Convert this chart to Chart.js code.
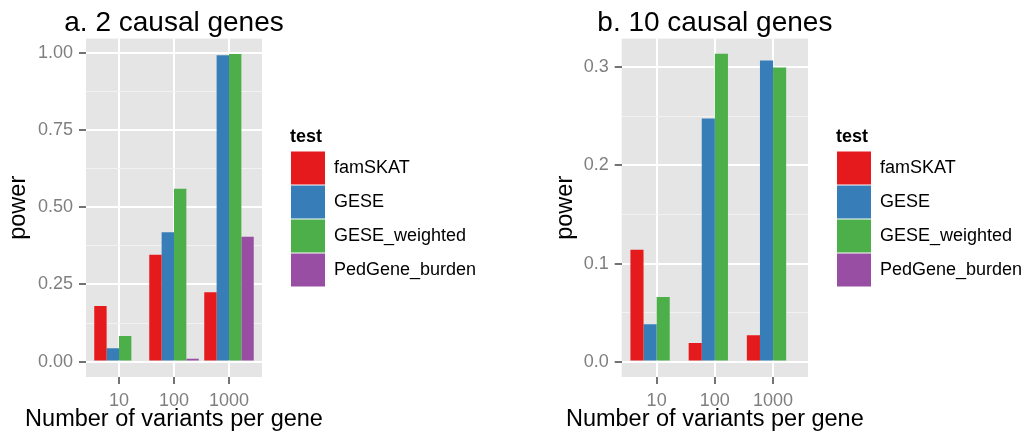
<!DOCTYPE html>
<html>
<head>
<meta charset="utf-8">
<script src="https://cdn.jsdelivr.net/npm/chart.js@4.4.0/dist/chart.umd.min.js"></script>
<style>
body { margin: 0; background: #fff; }
#wrap { position: relative; width: 1032px; height: 439px; }
canvas { position: absolute; top: 0; }
#chartA { left: 0; }
#chartB { left: 516px; }
</style>
</head>
<body>
<div id="wrap">
<canvas id="chartA" width="516" height="439"></canvas>
<canvas id="chartB" width="516" height="439"></canvas>
</div>
<script>
// カテゴリ（x軸）と凡例
const variants = ['10', '100', '1000'];
const tests = ['famSKAT', 'GESE', 'GESE_weighted', 'PedGene_burden'];
const testColors = ['#E41A1C', '#377EB8', '#4DAF4A', '#984EA3'];

// a. 2 causal genes
const famSKAT_a = [0.180, 0.346, 0.225];
const GESE_a = [0.043, 0.419, 0.993];
const GESEw_a = [0.083, 0.560, 0.997];
const PedGene_a = [null, 0.009, 0.405];

// b. 10 causal genes
const famSKAT_b = [0.114, 0.019, 0.027];
const GESE_b = [0.038, 0.248, 0.307];
const GESEw_b = [0.066, 0.314, 0.300];
const PedGene_b = [null, 0, 0];

// y軸目盛り
const yMajorA = [0, 0.25, 0.5, 0.75, 1];
const yMinorA = [0.125, 0.375, 0.625, 0.875];
const yMajorB = [0, 0.1, 0.2, 0.3];
const yMinorB = [0.05, 0.15, 0.25];

Chart.defaults.font.family = "'Liberation Sans', Arial, sans-serif";
Chart.defaults.animation = false;

const isMajor = (majors, v) => majors.some(m => Math.abs(m - v) < 1e-9);

// パネル背景（ggplot風グレー）
const panelBg = {
    id: 'panelBg',
    beforeDraw(chart) {
        const a = chart.chartArea;
        const ctx = chart.ctx;
        ctx.save();
        ctx.fillStyle = '#E5E5E5';
        ctx.fillRect(a.left, a.top, a.right - a.left, a.bottom - a.top);
        ctx.restore();
    }
};

// タイトルとx軸タイトル（パネル中央揃え、幅を縮めない）
const ggTitles = {
    id: 'ggTitles',
    afterDraw(chart, args, opts) {
        const a = chart.chartArea;
        const cx = (a.left + a.right) / 2;
        const ctx = chart.ctx;
        ctx.save();
        ctx.fillStyle = '#000';
        ctx.textAlign = 'center';
        ctx.textBaseline = 'alphabetic';
        ctx.font = "28px 'Liberation Sans', Arial, sans-serif";
        ctx.fillText(opts.title, cx, 31);
        ctx.font = "23.5px 'Liberation Sans', Arial, sans-serif";
        ctx.fillText(opts.xTitle, cx, 426);
        ctx.restore();
    }
};

function makePanel(id, titleText, series, yMajor, yMinor, yMin, yMax, digits, yWidth, yTitlePad, padRight) {
    const ctx = document.getElementById(id).getContext('2d');
    return new Chart(ctx, {
        type: 'bar',
        data: {
            datasets: series.map((vals, k) => ({
                label: tests[k],
                data: vals.map((v, i) => ({ x: i, y: v })),
                backgroundColor: testColors[k],
                borderWidth: 0,
                categoryPercentage: 0.9,
                barPercentage: 1.0
            }))
        },
        plugins: [panelBg, ggTitles],
        options: {
            responsive: false,
            devicePixelRatio: 1,
            layout: { padding: { top: 38.6, left: 0, right: padRight, bottom: 0 } },
            plugins: {
                ggTitles: { title: titleText, xTitle: 'Number of variants per gene' },
                title: { display: false },
                tooltip: { enabled: false },
                legend: {
                    position: 'right',
                    align: 'center',
                    fullSize: false,
                    maxWidth: 190,
                    title: {
                        display: true,
                        text: 'test',
                        position: 'start',
                        color: '#000',
                        font: { size: 18, weight: 'bold' },
                        padding: { top: 0, bottom: 1 }
                    },
                    labels: {
                        boxWidth: 34,
                        boxHeight: 33,
                        padding: 1,
                        color: '#000',
                        font: { size: 18 }
                    }
                }
            },
            scales: {
                x: {
                    type: 'linear',
                    min: -0.6,
                    max: 2.6,
                    offset: false,
                    afterBuildTicks: s => { s.ticks = variants.map((_, i) => ({ value: i })); },
                    afterFit: s => { s.height = 62; },
                    grid: {
                        offset: false,
                        color: '#FFFFFF',
                        lineWidth: 2,
                        drawTicks: true,
                        tickColor: '#444444',
                        tickWidth: 1.5,
                        tickLength: 7
                    },
                    border: { display: false },
                    ticks: {
                        color: '#7F7F7F',
                        font: { size: 18 },
                        padding: 6,
                        autoSkip: false,
                        maxRotation: 0,
                        callback: v => variants[v]
                    }
                },
                y: {
                    min: yMin,
                    max: yMax,
                    afterBuildTicks: s => {
                        s.ticks = yMajor.concat(yMinor).sort((p, q) => p - q).map(v => ({ value: v }));
                    },
                    afterFit: s => { s.width = yWidth; },
                    grid: {
                        color: c => (c.tick && !isMajor(yMajor, c.tick.value)) ? '#F2F2F2' : '#FFFFFF',
                        lineWidth: c => (c.tick && !isMajor(yMajor, c.tick.value)) ? 1 : 2,
                        tickColor: c => (c.tick && !isMajor(yMajor, c.tick.value)) ? 'rgba(0,0,0,0)' : '#444444',
                        tickWidth: 1.5,
                        tickLength: 7
                    },
                    border: { display: false },
                    ticks: {
                        color: '#7F7F7F',
                        font: { size: 18 },
                        padding: 6,
                        autoSkip: false,
                        callback: v => isMajor(yMajor, v) ? v.toFixed(digits) : ''
                    },
                    title: {
                        display: true,
                        text: 'power',
                        color: '#000',
                        font: { size: 23.5 },
                        padding: { top: yTitlePad, bottom: 0 }
                    }
                },
                // 凡例との隙間用
                pad: {
                    type: 'linear',
                    position: 'right',
                    display: true,
                    grid: { display: false },
                    ticks: { display: false },
                    border: { display: false },
                    afterFit: s => { s.width = 28; }
                }
            }
        }
    });
}

makePanel('chartA', 'a. 2 causal genes',
    [famSKAT_a, GESE_a, GESEw_a, PedGene_a],
    yMajorA, yMinorA, -0.0499, 1.0469, 2, 86, 4, 36);

makePanel('chartB', 'b. 10 causal genes',
    [famSKAT_b, GESE_b, GESEw_b, PedGene_b],
    yMajorB, yMinorB, -0.0157, 0.3294, 1, 105.7, 35.4, 6);
</script>
</body>
</html>
